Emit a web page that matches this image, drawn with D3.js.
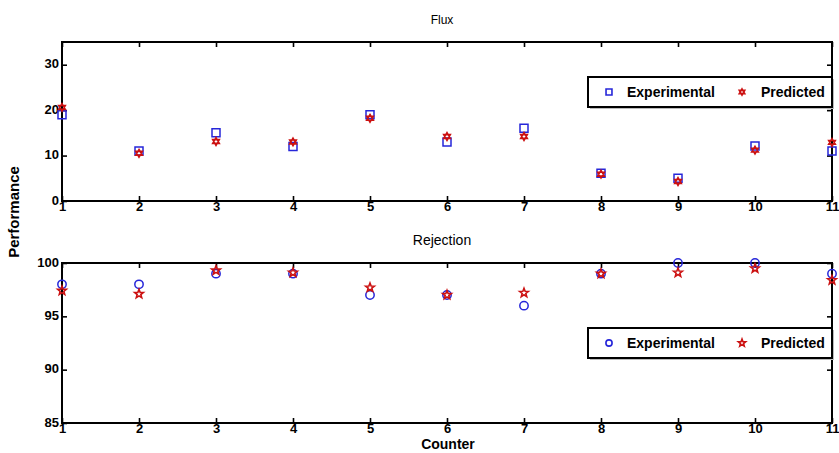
<!DOCTYPE html>
<html>
<head>
<meta charset="utf-8">
<script src="https://cdn.jsdelivr.net/npm/d3@7"></script>
<style>
  body { margin: 0; background: #fff; }
  svg { font-family: "Liberation Sans", Arial, sans-serif; }
</style>
</head>
<body>
<svg id="chart" width="839" height="453"></svg>
<script>

// Data
const counter = [1, 2, 3, 4, 5, 6, 7, 8, 9, 10, 11];

const flux_experimental = [19, 11, 15, 12, 19, 13, 16, 6.1, 5, 12.1, 11];
const flux_predicted = [20.6, 10.5, 13.1, 13, 18.2, 14.2, 14.2, 5.9, 4.3, 11.2, 12.9];

const rejection_experimental = [98, 98, 99, 99, 97, 97, 96, 99, 100, 100, 99];
const rejection_predicted = [97.4, 97.1, 99.3, 99.1, 97.7, 97, 97.2, 99, 99.1, 99.5, 98.4];

const flux_ticks = [0, 10, 20, 30];
const rejection_ticks = [85, 90, 95, 100];

const series_names = ["Experimental", "Predicted"];


const BLUE = "#2626d9";
const RED = "#cc1111";

const svg = d3.select("#chart");

// Dimensions of the two panels:
const PLOT_LEFT = 62;
const PLOT_RIGHT = 832;
const TICK = 5;

const x = d3.scaleLinear()
    .domain([1, 11])
    .range([PLOT_LEFT, PLOT_RIGHT]);


// Hexagram: two overlapping triangles
const symbolHexagram = {
  draw(context, size)
  {
    const r = Math.sqrt(size) * 0.62;
    for (let t = 0; t < 2; t++)
    {
      for (let k = 0; k < 3; k++)
      {
        const a = (t * 60 + k * 120 - 90) * Math.PI / 180;
        const px = r * Math.cos(a), py = r * Math.sin(a);
        if (k === 0) context.moveTo(px, py);
        else context.lineTo(px, py);
      }
      context.closePath();
    }
  }
};

// Outlined pentagram
const symbolPentagram = {
  draw(context, size)
  {
    const r = Math.sqrt(size) * 0.62;
    const ri = r * 0.42;
    for (let k = 0; k < 10; k++)
    {
      const a = (k * 36 - 90) * Math.PI / 180;
      const rr = (k % 2 === 0) ? r : ri;
      if (k === 0) context.moveTo(rr * Math.cos(a), rr * Math.sin(a));
      else context.lineTo(rr * Math.cos(a), rr * Math.sin(a));
    }
    context.closePath();
  }
};


function drawPanel(opts)
{
  const y = d3.scaleLinear()
      .domain(opts.domain)
      .range([opts.bottom, opts.top]);

  const g = svg.append("g");

  // title
  g.append("text")
      .attr("x", 442)
      .attr("y", opts.top - 18)
      .attr("text-anchor", "middle")
      .attr("font-size", opts.titleSize)
      .text(opts.title);

  // axes: ticks pointing inward on all four sides
  g.append("g")
      .attr("transform", "translate(0," + opts.bottom + ")")
      .call(d3.axisBottom(x).tickValues(counter).tickSizeInner(-TICK).tickSizeOuter(0).tickPadding(3))
      .call(a => a.selectAll("text").attr("dy", "0.5em"));
  g.append("g")
      .attr("transform", "translate(0," + opts.top + ")")
      .call(d3.axisTop(x).tickValues(counter).tickSizeInner(-TICK).tickSizeOuter(0).tickFormat(""));
  g.append("g")
      .attr("transform", "translate(" + PLOT_LEFT + ",0)")
      .call(d3.axisLeft(y).tickValues(opts.ticks).tickSizeInner(-TICK).tickSizeOuter(0).tickPadding(3))
      .call(a => a.selectAll("text").attr("dy", "0.25em"));
  g.append("g")
      .attr("transform", "translate(" + PLOT_RIGHT + ",0)")
      .call(d3.axisRight(y).tickValues(opts.ticks).tickSizeInner(-TICK).tickSizeOuter(0).tickFormat(""));

  g.selectAll(".domain").remove();
  g.selectAll(".tick line").attr("stroke", "#000").attr("stroke-width", 1.6);
  g.selectAll(".tick text")
      .attr("font-family", "Liberation Sans, Arial, sans-serif")
      .attr("font-size", 13)
      .attr("font-weight", "bold")
      .attr("fill", "#000");

  g.append("rect")
      .attr("x", PLOT_LEFT)
      .attr("y", opts.top)
      .attr("width", PLOT_RIGHT - PLOT_LEFT)
      .attr("height", opts.bottom - opts.top)
      .attr("fill", "none")
      .attr("stroke", "#000")
      .attr("stroke-width", 2);

  // data points
  const expSym = d3.symbol().type(opts.expSymbol).size(opts.expSize);
  const predSym = d3.symbol().type(opts.predSymbol).size(opts.predSize);

  g.append("g").selectAll("path")
      .data(opts.experimental)
      .join("path")
          .attr("transform", (d, i) => "translate(" + x(counter[i]) + "," + y(d) + ")")
          .attr("d", expSym)
          .attr("fill", "none")
          .attr("stroke", BLUE)
          .attr("stroke-width", 1.5);

  g.append("g").selectAll("path")
      .data(opts.predicted)
      .join("path")
          .attr("transform", (d, i) => "translate(" + x(counter[i]) + "," + y(d) + ")")
          .attr("d", predSym)
          .attr("fill", "none")
          .attr("stroke", RED)
          .attr("stroke-width", 1.6);

  // legend
  const lg = g.append("g")
      .attr("transform", "translate(588," + opts.legendY + ")");
  lg.append("rect")
      .attr("x", 2).attr("y", 2)
      .attr("width", 244).attr("height", 30)
      .attr("fill", "#bbb");
  lg.append("rect")
      .attr("width", 244).attr("height", 30)
      .attr("fill", "#fff")
      .attr("stroke", "#000")
      .attr("stroke-width", 2);

  const legendSymbols = [
    { sym: d3.symbol().type(opts.expSymbol).size(opts.expSize * 0.55), color: BLUE, mx: 21, tx: 39 },
    { sym: d3.symbol().type(opts.predSymbol).size(opts.predSize * 0.7), color: RED, mx: 154, tx: 173 }
  ];
  legendSymbols.forEach((s, i) =>
  {
    lg.append("path")
        .attr("transform", "translate(" + s.mx + ",15)")
        .attr("d", s.sym)
        .attr("fill", "none")
        .attr("stroke", s.color)
        .attr("stroke-width", 1.6);
    lg.append("text")
        .attr("x", s.tx)
        .attr("y", 20)
        .attr("font-size", 14)
        .attr("font-weight", "bold")
        .text(series_names[i]);
  });
}


drawPanel({
  title: "Flux",
  titleSize: 12,
  top: 42,
  bottom: 201,
  domain: [0, 35],
  ticks: flux_ticks,
  experimental: flux_experimental,
  predicted: flux_predicted,
  expSymbol: d3.symbolSquare,
  expSize: 64,
  predSymbol: symbolHexagram,
  predSize: 38,
  legendY: 77
});

drawPanel({
  title: "Rejection",
  titleSize: 14,
  top: 263,
  bottom: 423,
  domain: [85, 100],
  ticks: rejection_ticks,
  experimental: rejection_experimental,
  predicted: rejection_predicted,
  expSymbol: d3.symbolCircle,
  expSize: 55,
  predSymbol: symbolPentagram,
  predSize: 55,
  legendY: 328
});


// axis titles
svg.append("text")
    .attr("transform", "translate(19,212) rotate(-90)")
    .attr("text-anchor", "middle")
    .attr("font-size", 15)
    .attr("font-weight", "bold")
    .text("Performance");

svg.append("text")
    .attr("x", 448)
    .attr("y", 449)
    .attr("text-anchor", "middle")
    .attr("font-size", 14)
    .attr("font-weight", "bold")
    .text("Counter");

</script>
</body>
</html>
